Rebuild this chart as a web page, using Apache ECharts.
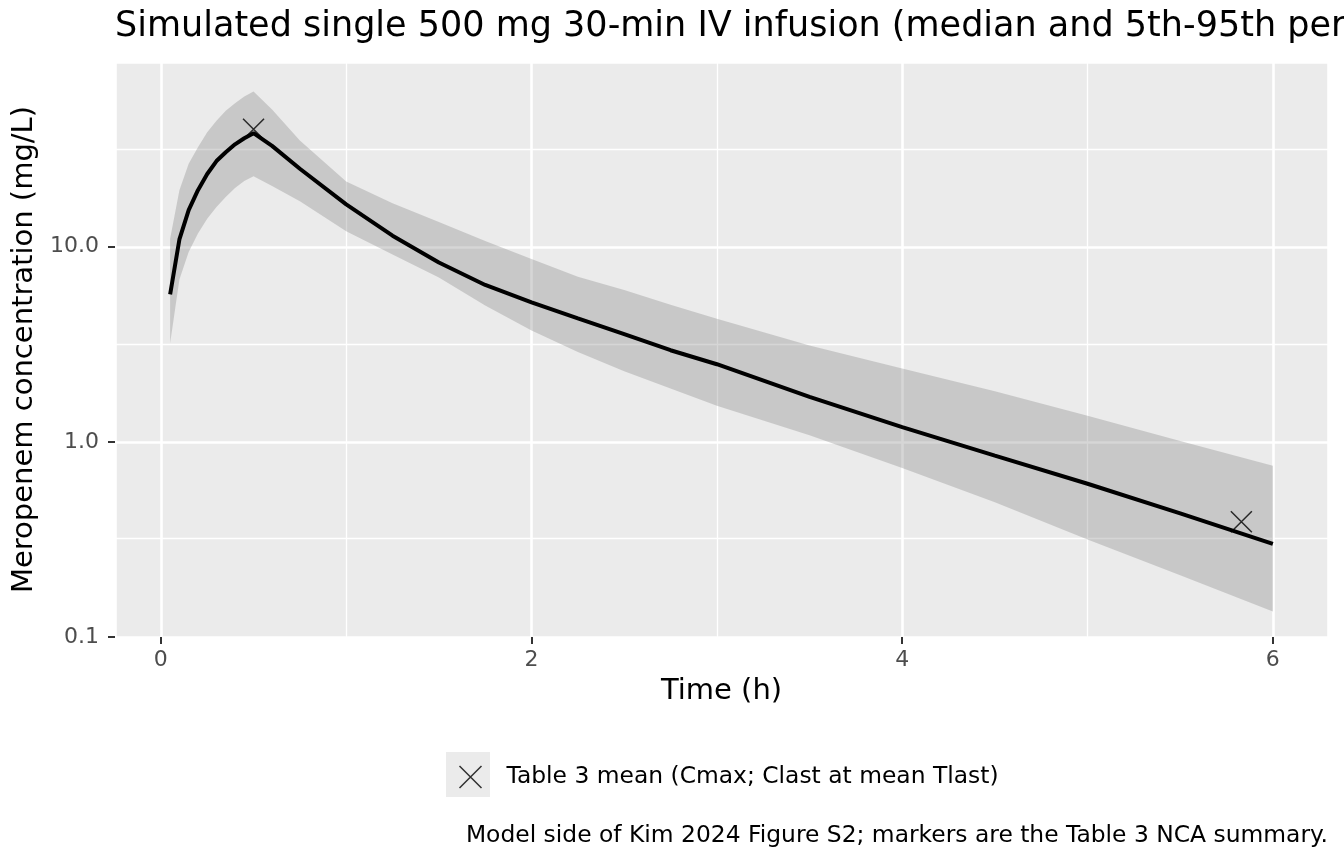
<!DOCTYPE html>
<html>
<head>
<meta charset="utf-8">
<title>Meropenem simulated profile</title>
<script src="https://cdn.jsdelivr.net/npm/echarts@6/dist/echarts.min.js"></script>
<style>
  html, body { margin: 0; padding: 0; background: #fff; }
  #chart { width: 1344px; height: 864px; }
</style>
</head>
<body>
<div id="chart"></div>
<script>
// simulated time grid (h)
const timeH = [0.05, 0.1, 0.15, 0.2, 0.25, 0.3, 0.35, 0.4, 0.45, 0.5, 0.6, 0.75, 1.0, 1.25, 1.5, 1.75, 2.0, 2.25, 2.5, 2.75, 3.0, 3.5, 4.0, 4.5, 5.0, 5.5, 6.0];
// median and 5th / 95th percentiles (mg/L)
const medianConc = [5.7, 10.9, 15.4, 19.5, 23.6, 27.5, 30.5, 33.5, 36.0, 38.2, 32.9, 25.1, 16.5, 11.4, 8.3, 6.37, 5.19, 4.3, 3.57, 2.95, 2.5, 1.7, 1.19, 0.85, 0.61, 0.43, 0.30];
const p95Conc = [11.0, 19.5, 26.6, 32.4, 38.6, 44.3, 49.8, 54.4, 58.9, 62.5, 50.5, 35.0, 21.6, 16.7, 13.4, 10.7, 8.65, 7.03, 6.0, 5.05, 4.28, 3.12, 2.38, 1.82, 1.36, 1.01, 0.755];
const p5Conc = [3.2, 6.8, 9.4, 11.7, 13.9, 16.0, 18.0, 20.0, 21.7, 23.0, 20.5, 17.1, 12.0, 9.14, 6.95, 5.0, 3.72, 2.89, 2.30, 1.88, 1.53, 1.08, 0.735, 0.49, 0.316, 0.207, 0.135];
// Table 3 NCA means: Cmax, Clast at mean Tlast
const markerTime = [0.5, 5.83];
const markerConc = [40.0, 0.39];
// minor log breaks (half decades)
const yMinorBreaks = [0.3162, 3.162, 31.62];

const FONT = "DejaVu Sans";
const CROSS = "path://M0,0L10,10M10,0L0,10";

const chart = echarts.init(document.getElementById("chart"));

const bandData = timeH.map((t, i) => [t, p5Conc[i], p95Conc[i]]);

const option = {
  animation: false,
  backgroundColor: "#ffffff",
  textStyle: { fontFamily: FONT },
  title: [
    {
      text: "Simulated single 500 mg 30-min IV infusion (median and 5th-95th percentiles)",
      left: 115,
      top: 9,
      padding: 0,
      textStyle: { fontFamily: FONT, fontSize: 35, fontWeight: "normal", color: "#000" }
    },
    {
      text: "Model side of Kim 2024 Figure S2; markers are the Table 3 NCA summary.",
      right: 16,
      top: 824,
      padding: 0,
      textStyle: { fontFamily: FONT, fontSize: 23.4, fontWeight: "normal", color: "#000" }
    }
  ],
  grid: {
    left: 115, right: 16, top: 62, bottom: 227,
    show: true, backgroundColor: "#ebebeb", borderWidth: 0
  },
  graphic: [
    { type: "rect", left: 446, top: 752, shape: { width: 44, height: 45 }, style: { fill: "#ebebeb" }, z: 0 }
  ],
  legend: {
    left: 446,
    top: 752,
    padding: 0,
    itemWidth: 53,
    itemHeight: 45,
    icon: "path://M0,0M53,45M11,11.5L33,33.5M33,11.5L11,33.5",
    itemStyle: { color: "none", borderColor: "#000", borderWidth: 1.5 },
    textStyle: { fontFamily: FONT, fontSize: 23.4, color: "#000" },
    data: ["Table 3 mean (Cmax; Clast at mean Tlast)"]
  },
  xAxis: {
    type: "value",
    min: -0.2475,
    max: 6.2975,
    splitNumber: 3,
    minInterval: 2,
    maxInterval: 2,
    name: "Time (h)",
    nameLocation: "middle",
    nameGap: 40,
    nameTextStyle: { fontFamily: FONT, fontSize: 29, color: "#000" },
    axisLine: { show: false, onZero: false },
    axisTick: { show: true, length: 7, lineStyle: { color: "#333", width: 2 } },
    axisLabel: {
      fontFamily: FONT, fontSize: 22, color: "#4d4d4d", margin: 12,
      showMinLabel: false, showMaxLabel: false
    },
    splitLine: { show: true, lineStyle: { color: "#fff", width: 2.6 } },
    minorTick: { show: false, splitNumber: 2 },
    minorSplitLine: { show: true, lineStyle: { color: "#fff", width: 1.3 } }
  },
  yAxis: {
    type: "log",
    logBase: 10,
    min: 0.1,
    max: 88.5,
    name: "Meropenem concentration (mg/L)",
    nameLocation: "middle",
    nameGap: 70,
    nameTextStyle: { fontFamily: FONT, fontSize: 29, color: "#000" },
    axisLine: { show: false, onZero: false },
    axisTick: { show: true, length: 7, lineStyle: { color: "#333", width: 2 } },
    axisLabel: {
      fontFamily: FONT, fontSize: 22, color: "#4d4d4d", margin: 16,
      showMaxLabel: false,
      formatter: v => Number(v).toFixed(1)
    },
    splitLine: { show: true, lineStyle: { color: "#fff", width: 2.6 } }
  },
  series: [
    {
      name: "band",
      type: "custom",
      z: 2,
      clip: true,
      data: bandData,
      renderItem: function (params, api) {
        if (params.dataIndex !== 0) return;
        const upper = bandData.map(d => api.coord([d[0], d[2]]));
        const lower = bandData.map(d => api.coord([d[0], d[1]])).reverse();
        return {
          type: "polygon",
          shape: { points: upper.concat(lower) },
          style: { fill: "rgba(127,127,127,0.32)", stroke: "none" }
        };
      }
    },
    {
      name: "median",
      type: "line",
      z: 3,
      data: timeH.map((t, i) => [t, medianConc[i]]),
      showSymbol: false,
      symbol: "none",
      lineStyle: { color: "#000", width: 4 },
      markLine: {
        z: 1,
        silent: true,
        symbol: ["none", "none"],
        label: { show: false },
        lineStyle: { color: "#fff", width: 1.3, type: "solid" },
        data: yMinorBreaks.map(v => ({ yAxis: v }))
      }
    },
    {
      name: "Table 3 mean (Cmax; Clast at mean Tlast)",
      type: "scatter",
      z: 4,
      symbol: CROSS,
      symbolSize: 21,
      itemStyle: { color: "none", borderColor: "#000", borderWidth: 1.5 },
      data: markerTime.map((t, i) => [t, markerConc[i]])
    }
  ]
};

chart.setOption(option);
</script>
</body>
</html>
